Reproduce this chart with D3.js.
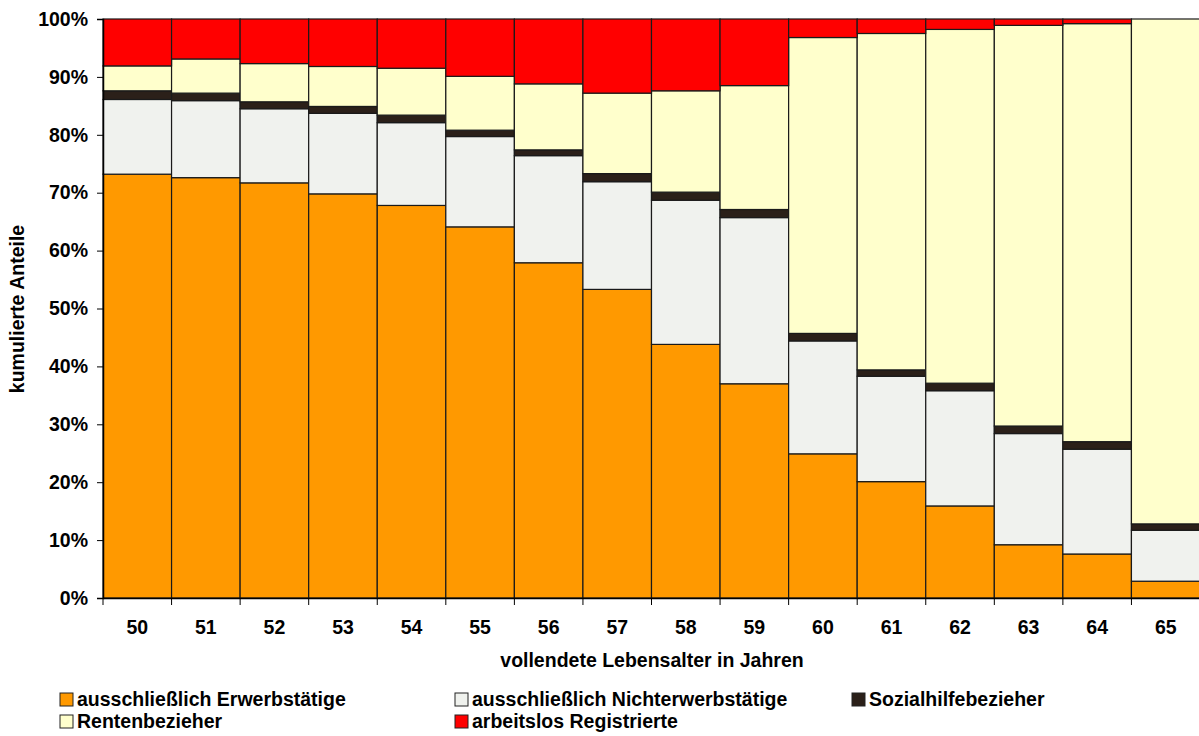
<!DOCTYPE html>
<html><head><meta charset="utf-8">
<script src="https://cdn.jsdelivr.net/npm/d3@7"></script>
<style>
body{margin:0;background:#fff;}
text{font-family:"Liberation Sans",Arial,sans-serif;font-weight:bold;fill:#000;}
</style></head>
<body><svg id="chart" width="1199" height="736"></svg>
<script>
const ages = ["50","51","52","53","54","55","56","57","58","59","60","61","62","63","64","65"];
const seriesNames = ["ausschließlich Erwerbstätige","ausschließlich Nichterwerbstätige","Sozialhilfebezieher","Rentenbezieher","arbeitslos Registrierte"];
const erwerb   = [73.2,72.6,71.7,69.8,67.8,64.1,57.9,53.3,43.8,37.0,24.9,20.1,15.9,9.2,7.6,2.9];
const nichterw = [12.9,13.3,12.8,13.9,14.3,15.6,18.5,18.6,24.9,28.7,19.5,18.2,19.9,19.2,18.1,8.8];
const sozial   = [1.5,1.3,1.2,1.2,1.3,1.1,1.0,1.4,1.4,1.4,1.3,1.1,1.3,1.3,1.3,1.1];
const renten   = [4.3,5.9,6.6,6.9,8.1,9.3,11.4,13.9,17.5,21.4,51.1,58.1,61.1,69.2,72.2,87.2];
const arbeitslos = [8.1,6.9,7.7,8.2,8.5,9.9,11.2,12.8,12.4,11.5,3.2,2.5,1.8,1.1,0.8,0.0];
const yTicks = [0,10,20,30,40,50,60,70,80,90,100];
const colors = ["#FF9900","#F0F2EE","#2B2019","#FFFFCC","#FF0000"];

const seriesArrays = [erwerb,nichterw,sozial,renten,arbeitslos];
const rows = ages.map((a,i)=>{const r={age:a}; seriesNames.forEach((s,j)=>r[s]=seriesArrays[j][i]); return r;});
const stack = d3.stack().keys(seriesNames)(rows);

const FS = "19.5px";
const svg = d3.select("#chart");
const mLeft=103, mRight=1200, mTop=19, mBottom=598;
const x = d3.scaleBand().domain(ages).range([mLeft,mRight]).padding(0);
const y = d3.scaleLinear().domain([0,100]).range([mBottom,mTop]);

const g = svg.append("g");
stack.forEach((layer,j)=>{
  g.selectAll(null).data(layer).enter().append("rect")
    .attr("x",d=>x(d.data.age))
    .attr("width",x.bandwidth())
    .attr("y",d=>y(d[1]))
    .attr("height",d=>Math.max(0,y(d[0])-y(d[1])))
    .attr("fill",colors[j])
    .attr("stroke","#1a1a1a").attr("stroke-width",1.2);
});

// y axis
const yAxis = svg.append("g").attr("transform",`translate(${mLeft},0)`)
  .call(d3.axisLeft(y).tickValues(yTicks).tickFormat(d=>d+"%").tickSize(6).tickPadding(9));
yAxis.select(".domain").attr("stroke","#000").attr("stroke-width",1.5);
yAxis.selectAll(".tick line").attr("stroke","#000");
yAxis.selectAll("text").style("font-size",FS).attr("fill","#000");

// x axis
const xAxis = svg.append("g").attr("transform",`translate(0,${mBottom})`)
  .call(d3.axisBottom(x).tickSize(0).tickPadding(22));
xAxis.select(".domain").attr("stroke","#000").attr("stroke-width",1.5);
xAxis.selectAll("text").style("font-size",FS).attr("fill","#000");
// boundary tick marks
svg.append("g").selectAll("line").data(ages).enter().append("line")
  .attr("x1",d=>x(d)).attr("x2",d=>x(d)).attr("y1",mBottom).attr("y2",mBottom+7)
  .attr("stroke","#000").attr("stroke-width",1);

// axis titles
svg.append("text").attr("x",652).attr("y",667).attr("text-anchor","middle").style("font-size",FS)
  .text("vollendete Lebensalter in Jahren");
svg.append("text").attr("transform","translate(24,309) rotate(-90)").attr("text-anchor","middle").style("font-size",FS)
  .text("kumulierte Anteile");

// legend
const legendPos = [[60,693],[455,693],[852,693],[60,715],[455,715]];
const lg = svg.append("g");
seriesNames.forEach((name,k)=>{
  const [lx,ly]=legendPos[k];
  lg.append("rect").attr("x",lx).attr("y",ly).attr("width",13).attr("height",13)
    .attr("fill",colors[k]).attr("stroke","#222").attr("stroke-width",1);
  lg.append("text").attr("x",lx+17).attr("y",ly+13).style("font-size",FS).text(name);
});
</script></body></html>
